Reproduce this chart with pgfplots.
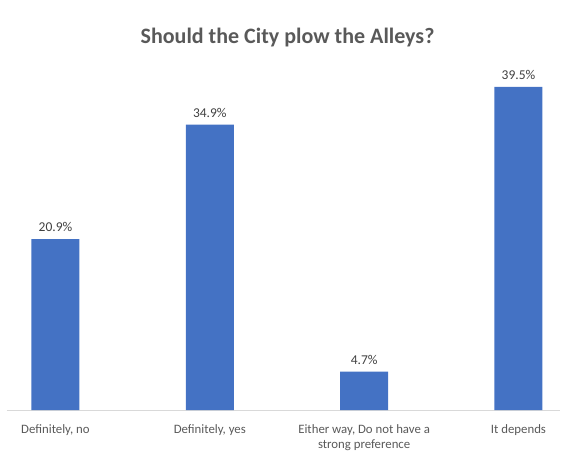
\documentclass[border=0pt]{standalone}
\usepackage{pgfplots}
\pgfplotsset{compat=1.18}
\usepackage{fontspec}
\setmainfont{Carlito}
\definecolor{barblue}{HTML}{4472C4}
\definecolor{txtgray}{HTML}{595959}
\definecolor{lblgray}{HTML}{404040}
\definecolor{linegray}{HTML}{D9D9D9}
\begin{document}
\begin{tikzpicture}[x=1pt,y=1pt]
\path[use as bounding box] (0,0) rectangle (567,453);
\node[font=\bfseries\fontsize{22}{26}\selectfont, text=txtgray] at (287.5,415) {Should the City plow the Alleys?};
\begin{axis}[
  at={(7pt,43pt)}, anchor=south west,
  scale only axis,
  width=553pt, height=368pt,
  xmin=-0.314, xmax=3.269,
  ymin=0, ymax=45,
  ybar, bar width=48pt,
  axis x line*=bottom,
  axis y line=none,
  x axis line style={-, draw=linegray, line width=0.8pt},
  xtick=data,
  xticklabels={{Definitely, no},{Definitely, yes},{Either way, Do not have a\\strong preference},{It depends}},
  xticklabel style={font=\fontsize{12.8}{15.5}\selectfont, text=txtgray, align=center, anchor=north, yshift=-11pt},
  major tick length=0pt,
  nodes near coords={\pgfmathprintnumber[fixed,precision=1,fixed zerofill]{\pgfplotspointmeta}\%},
  nodes near coords style={font=\fontsize{13.5}{16}\selectfont, text=lblgray, yshift=3.5pt},
  /pgf/number format/assume math mode=true,
  clip=false,
]
\addplot[fill=barblue, draw=none] coordinates {(0,20.9) (1,34.9) (2,4.7) (3,39.5)};
\end{axis}
\end{tikzpicture}
\end{document}
